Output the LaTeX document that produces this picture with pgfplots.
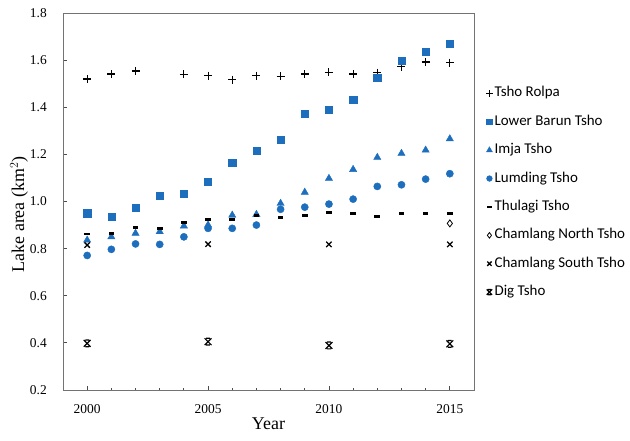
\documentclass[border=0pt]{standalone}
\usepackage{fontspec}
\setmainfont{Liberation Serif}
\newfontfamily\legfont{Carlito}
\usepackage{pgfplots}
\pgfplotsset{compat=1.18}

\definecolor{lakeblue}{RGB}{30,110,190}

% short thick bar used for Thulagi Tsho
\pgfdeclareplotmark{thickdash}{%
  \pgfpathrectangle{\pgfqpoint{-2.8bp}{-1.4bp}}{\pgfqpoint{5.6bp}{2.8bp}}%
  \pgfusepathqfill}
% x closed by a short bar at top and bottom, used for Dig Tsho
\pgfdeclareplotmark{barx}{%
  \pgfpathmoveto{\pgfqpoint{-\pgfplotmarksize}{-\pgfplotmarksize}}%
  \pgfpathlineto{\pgfqpoint{\pgfplotmarksize}{\pgfplotmarksize}}%
  \pgfpathmoveto{\pgfqpoint{-\pgfplotmarksize}{\pgfplotmarksize}}%
  \pgfpathlineto{\pgfqpoint{\pgfplotmarksize}{-\pgfplotmarksize}}%
  \pgfpathmoveto{\pgfqpoint{-0.55\pgfplotmarksize}{\pgfplotmarksize}}%
  \pgfpathlineto{\pgfqpoint{0.55\pgfplotmarksize}{\pgfplotmarksize}}%
  \pgfpathmoveto{\pgfqpoint{-0.55\pgfplotmarksize}{-\pgfplotmarksize}}%
  \pgfpathlineto{\pgfqpoint{0.55\pgfplotmarksize}{-\pgfplotmarksize}}%
  \pgfusepathqstroke}

\begin{document}
\begin{tikzpicture}
\begin{axis}[
  at={(0,0)}, anchor=south west,
  scale only axis,
  width=411bp, height=377bp,
  xmin=1999, xmax=2016,
  ymin=0.2, ymax=1.8,
  xtick={2000,2005,2010,2015},
  minor x tick num=4,
  ytick={0.2,0.4,0.6,0.8,1.0,1.2,1.4,1.6,1.8},
  xtick pos=lower, ytick pos=left,
  tick align=inside,
  major tick length=4.5bp, minor tick length=2.5bp,
  every tick/.style={black!70, line width=0.8bp},
  axis line style={black!55, line width=0.8bp},
  /pgf/number format/assume math mode=true,
  xticklabel style={/pgf/number format/1000 sep={}, anchor=center, yshift=-19bp},
  yticklabel style={/pgf/number format/fixed, /pgf/number format/fixed zerofill,
    /pgf/number format/precision=1, anchor=east, inner sep=0pt, xshift=-16bp},
  tick label style={font=\fontsize{13.5}{15}\selectfont},
  label style={font=\fontsize{18}{20}\selectfont},
  xlabel={Year},
  ylabel={Lake area (km$^2$)},
  xlabel style={at={(axis description cs:0.5,0)}, anchor=center, yshift=-34bp},
  ylabel style={at={(axis description cs:-0.107,0.466)}, anchor=center},
  only marks,
  legend cell align=left,
  legend image code/.code={\draw[#1, mark options={scale=0.8}] plot coordinates {(0bp,0bp)};},
  legend style={draw=none, fill=none, at={(1.022,0.81)}, anchor=north west,
    font=\legfont\fontsize{15}{17}\selectfont,
    row sep=15.4bp, column sep=0pt,
    nodes={inner xsep=2bp, inner ysep=0pt, text height=10bp, text depth=3bp}},
]
\addplot[mark=+, mark size=4bp, black, line width=1.1bp] coordinates {
  (2000,1.520) (2001,1.541) (2002,1.554) (2004,1.540) (2005,1.534)
  (2006,1.516) (2007,1.534) (2008,1.532) (2009,1.541) (2010,1.548)
  (2011,1.541) (2012,1.547) (2013,1.572) (2014,1.592) (2015,1.589)};
\addlegendentry{Tsho Rolpa}
\addplot[mark=square*, mark size=3.6bp, lakeblue] coordinates {
  (2000,0.950) (2001,0.934) (2002,0.973) (2003,1.023) (2004,1.034)
  (2005,1.084) (2006,1.166) (2007,1.215) (2008,1.261) (2009,1.371)
  (2010,1.389) (2011,1.432) (2012,1.527) (2013,1.597) (2014,1.637)
  (2015,1.671)};
\addlegendentry{Lower Barun Tsho}
\addplot[mark=triangle*, mark size=4.2bp, lakeblue] coordinates {
  (2000,0.836) (2001,0.850) (2002,0.865) (2003,0.872) (2004,0.896)
  (2005,0.900) (2006,0.942) (2007,0.945) (2008,0.992) (2009,1.039)
  (2010,1.098) (2011,1.136) (2012,1.187) (2013,1.204) (2014,1.218)
  (2015,1.266)};
\addlegendentry{Imja Tsho}
\addplot[mark=*, mark size=3.6bp, lakeblue] coordinates {
  (2000,0.771) (2001,0.797) (2002,0.820) (2003,0.818) (2004,0.850)
  (2005,0.886) (2006,0.886) (2007,0.900) (2008,0.967) (2009,0.976)
  (2010,0.989) (2011,1.010) (2012,1.064) (2013,1.071) (2014,1.095)
  (2015,1.118)};
\addlegendentry{Lumding Tsho}
\addplot[mark=thickdash, black] coordinates {
  (2000,0.862) (2001,0.865) (2002,0.888) (2003,0.884) (2004,0.911)
  (2005,0.924) (2006,0.924) (2007,0.941) (2008,0.931) (2009,0.941)
  (2010,0.952) (2011,0.950) (2012,0.937) (2013,0.950) (2014,0.948)
  (2015,0.950)};
\addlegendentry{Thulagi Tsho}
\addplot[mark=diamond, mark size=3.5bp, black, line width=0.8bp] coordinates {
  (2015,0.907)};
\addlegendentry{Chamlang North Tsho}
\addplot[mark=x, mark size=3.8bp, black, line width=1.3bp] coordinates {
  (2000,0.815) (2005,0.819) (2010,0.818) (2015,0.818)};
\addlegendentry{Chamlang South Tsho}
\addplot[mark=barx, mark size=3.4bp, black, line width=1.2bp] coordinates {
  (2000,0.398) (2005,0.405) (2010,0.389) (2015,0.396)};
\addlegendentry{Dig Tsho}
\end{axis}
\pgfresetboundingbox
\path (-63bp,-51bp) rectangle (567bp,390bp);
\end{tikzpicture}
\end{document}
